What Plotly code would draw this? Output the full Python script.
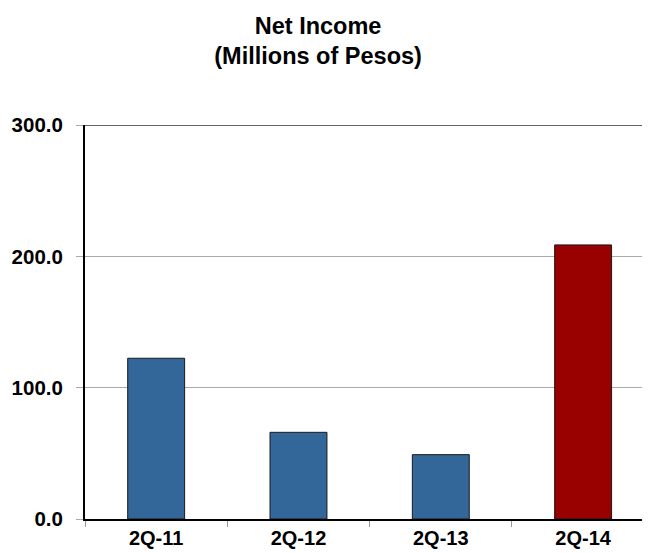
import plotly.graph_objects as go

categories = ["2Q-11", "2Q-12", "2Q-13", "2Q-14"]
net_income = [122.4, 66.0, 49.0, 208.7]
bar_colors = ["#336699", "#336699", "#336699", "#990000"]
y_ticks = [0, 100, 200, 300]

fig = go.Figure(
    go.Bar(
        x=categories,
        y=net_income,
        width=0.4,
        marker=dict(color=bar_colors, line=dict(color="#1a1a1a", width=1)),
    )
)

font_family = "Liberation Sans, Arial, sans-serif"

fig.update_layout(
    width=642,
    height=546,
    margin=dict(l=77, r=0, t=117, b=35),
    paper_bgcolor="white",
    plot_bgcolor="white",
    showlegend=False,
    title=dict(
        text="<b>Net Income<br>(Millions of Pesos)</b>",
        x=0.483,
        xref="container",
        xanchor="center",
        y=0.953,
        yref="container",
        yanchor="top",
        font=dict(family=font_family, size=23.5, color="black"),
    ),
    xaxis=dict(
        range=[-0.5, 3.47],
        showline=True,
        linecolor="black",
        linewidth=2,
        ticks="outside",
        tickson="boundaries",
        ticklen=6,
        tickcolor="#999999",
        tickfont=dict(family=font_family, size=20, color="black", weight="bold"),
        showgrid=False,
        zeroline=False,
    ),
    yaxis=dict(
        range=[0, 300],
        tickvals=y_ticks,
        tickformat=".1f",
        showline=True,
        linecolor="black",
        linewidth=2,
        ticks="outside",
        ticklen=7,
        tickcolor="#aaaaaa",
        ticklabelstandoff=9,
        tickfont=dict(family=font_family, size=20.5, color="black", weight="bold"),
        showgrid=True,
        gridcolor="#aaaaaa",
        gridwidth=1,
        zeroline=False,
    ),
    shapes=[
        dict(
            type="line",
            xref="paper",
            yref="y",
            x0=0,
            x1=1,
            y0=300,
            y1=300,
            line=dict(color="#666666", width=2),
        )
    ],
)

fig.write_html("out.html")
